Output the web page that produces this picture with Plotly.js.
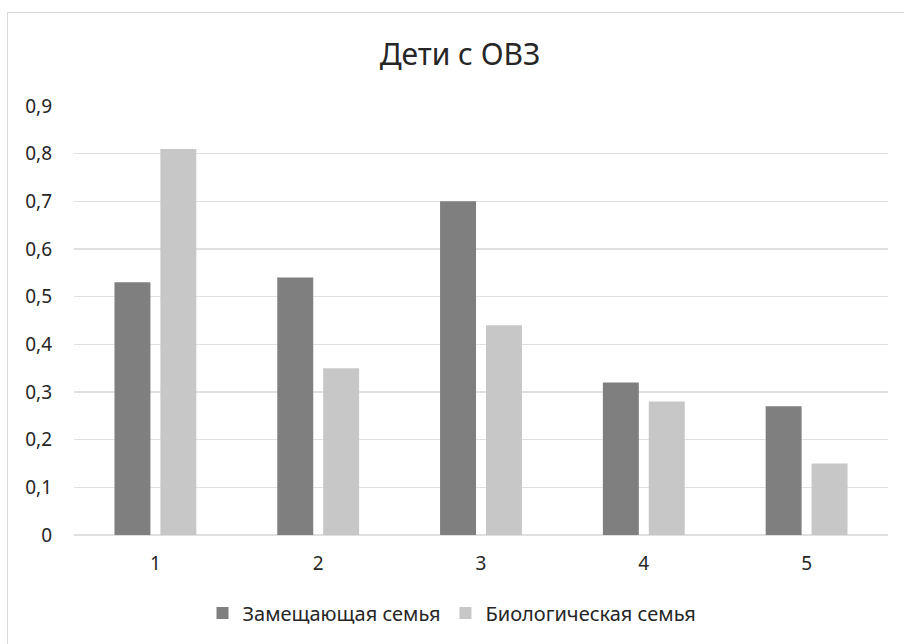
<!DOCTYPE html>
<html>
<head>
<meta charset="utf-8">
<script src="https://cdn.plot.ly/plotly-3.0.1.min.js"></script>
<style>
html,body{margin:0;padding:0;overflow:hidden;background:#fff;}
#wrap{position:relative;width:904px;height:644px;}
#chart{width:904px;height:644px;}
#frame{position:absolute;left:7px;top:12px;width:920px;height:660px;border:1px solid #d9d9d9;pointer-events:none;}
</style>
</head>
<body>
<div id="wrap"><div id="chart"></div><div id="frame"></div></div>
<script>
const categories = ['1', '2', '3', '4', '5'];
const seriesNames = ['Замещающая семья', 'Биологическая семья'];
const substituteFamily = [0.53, 0.54, 0.70, 0.32, 0.27];
const biologicalFamily = [0.81, 0.35, 0.44, 0.28, 0.15];
const yTickVals = [0, 0.1, 0.2, 0.3, 0.4, 0.5, 0.6, 0.7, 0.8, 0.9];
const yTickText = ['0', '0,1', '0,2', '0,3', '0,4', '0,5', '0,6', '0,7', '0,8', '0,9'];
const chartTitle = 'Дети с ОВЗ';

const font = 'Noto Sans, Open Sans, sans-serif';
const traces = [
  {type: 'bar', name: seriesNames[0], x: categories, y: substituteFamily,
   marker: {color: '#7f7f7f'}, hoverinfo: 'none'},
  {type: 'bar', name: seriesNames[1], x: categories, y: biologicalFamily,
   marker: {color: '#c7c7c7'}, hoverinfo: 'none'}
];
const layout = {
  width: 904, height: 644,
  margin: {l: 74, r: 16, t: 106, b: 109},
  paper_bgcolor: 'rgba(0,0,0,0)', plot_bgcolor: '#fff',
  font: {family: font, size: 19, color: '#262626'},
  title: {text: chartTitle, font: {family: font, size: 30, color: '#262626'},
          x: 460/904, xref: 'container', xanchor: 'center',
          y: 1 - 54/644, yref: 'container', yanchor: 'middle'},
  barmode: 'group', bargap: 0.436, bargroupgap: 0.217,
  xaxis: {type: 'category', showgrid: false, zeroline: false, showline: false,
          ticks: '', ticklabelstandoff: 15, tickfont: {size: 19, color: '#262626'}},
  yaxis: {range: [0, 0.9], tickvals: yTickVals, ticktext: yTickText,
          showgrid: true, gridcolor: '#e0e0e0', gridwidth: 1.3,
          zeroline: true, zerolinecolor: '#e0e0e0', zerolinewidth: 1.3,
          showline: false, ticks: '', ticklabelstandoff: 21,
          tickfont: {size: 19, color: '#262626'}},
  legend: {orientation: 'h', x: 0.5, xref: 'container', xanchor: 'center',
           y: 1 - 613/644, yref: 'container', yanchor: 'middle',
           font: {size: 20, color: '#262626'}, itemwidth: 30, traceorder: 'normal'},
  showlegend: true
};
Plotly.newPlot('chart', traces, layout, {displayModeBar: false, staticPlot: true});
</script>
</body>
</html>
